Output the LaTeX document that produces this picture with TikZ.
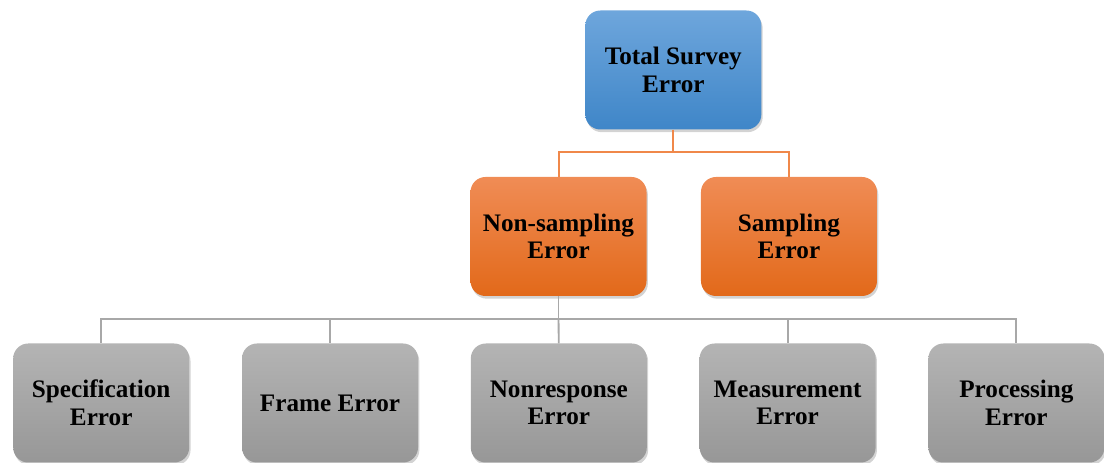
\documentclass[tikz,border=0pt]{standalone}
\usepackage{fontspec}
\setmainfont{Liberation Serif}
\usetikzlibrary{positioning,shadows}
\definecolor{blueTop}{HTML}{6EA6DC}
\definecolor{blueBot}{HTML}{3F86C8}
\definecolor{orangeTop}{HTML}{F08C55}
\definecolor{orangeBot}{HTML}{E2691A}
\definecolor{grayTop}{HTML}{B4B4B4}
\definecolor{grayBot}{HTML}{979797}
\definecolor{orangeLine}{HTML}{F0884A}
\definecolor{grayLine}{HTML}{A8A8A8}
\tikzset{
  errbox/.style={rounded corners=0.45cm, minimum width=5.28cm, minimum height=3.57cm,
    align=center, font=\fontsize{21.5}{23.5}\selectfont\bfseries,
    drop shadow={opacity=0.35, shadow xshift=0.04cm, shadow yshift=-0.08cm}},
  topbox/.style={errbox, top color=blueTop, bottom color=blueBot},
  midbox/.style={errbox, top color=orangeTop, bottom color=orangeBot},
  lowbox/.style={errbox, top color=grayTop, bottom color=grayBot},
  oline/.style={draw=orangeLine, line width=1.7pt},
  gline/.style={draw=grayLine, line width=1.6pt}
}
\begin{document}
\begin{tikzpicture}
  \useasboundingbox (0,0) rectangle (33.12,13.89);
  % Top box
  \node[topbox] (total) at (20.2,11.79) {Total Survey\\Error};
  % Orange boxes
  \node[midbox] (nonsamp) at (16.755,6.795) {Non-sampling\\Error};
  \node[midbox, right=1.62cm of nonsamp] (samp) {Sampling\\Error};
  % Gray boxes
  \node[lowbox] (frame) at (9.9,1.8) {Frame Error};
  \node[lowbox, left=1.57cm of frame] (spec) {Specification\\Error};
  \node[lowbox, right=1.57cm of frame] (nonresp) {Nonresponse\\Error};
  \node[lowbox, right=1.57cm of nonresp] (meas) {Measurement\\Error};
  \node[lowbox, right=1.57cm of meas] (proc) {Processing\\Error};
  % Orange lines
  \draw[oline] (total.south) -- ++(0,-0.66) coordinate (tj);
  \draw[oline] (tj) -| (nonsamp.north);
  \draw[oline] (tj) -| (samp.north);
  % Gray lines
  \draw[gline] (nonsamp.south) -- ++(0,-0.69) coordinate (nj);
  \draw[gline] (nj) -| (spec.north);
  \draw[gline] (nj) -| (frame.north);
  \draw[gline] (nj) -| (meas.north);
  \draw[gline] (nj) -| (proc.north);
  \draw[gline] (nj) -- (nonresp.north);
\end{tikzpicture}
\end{document}
